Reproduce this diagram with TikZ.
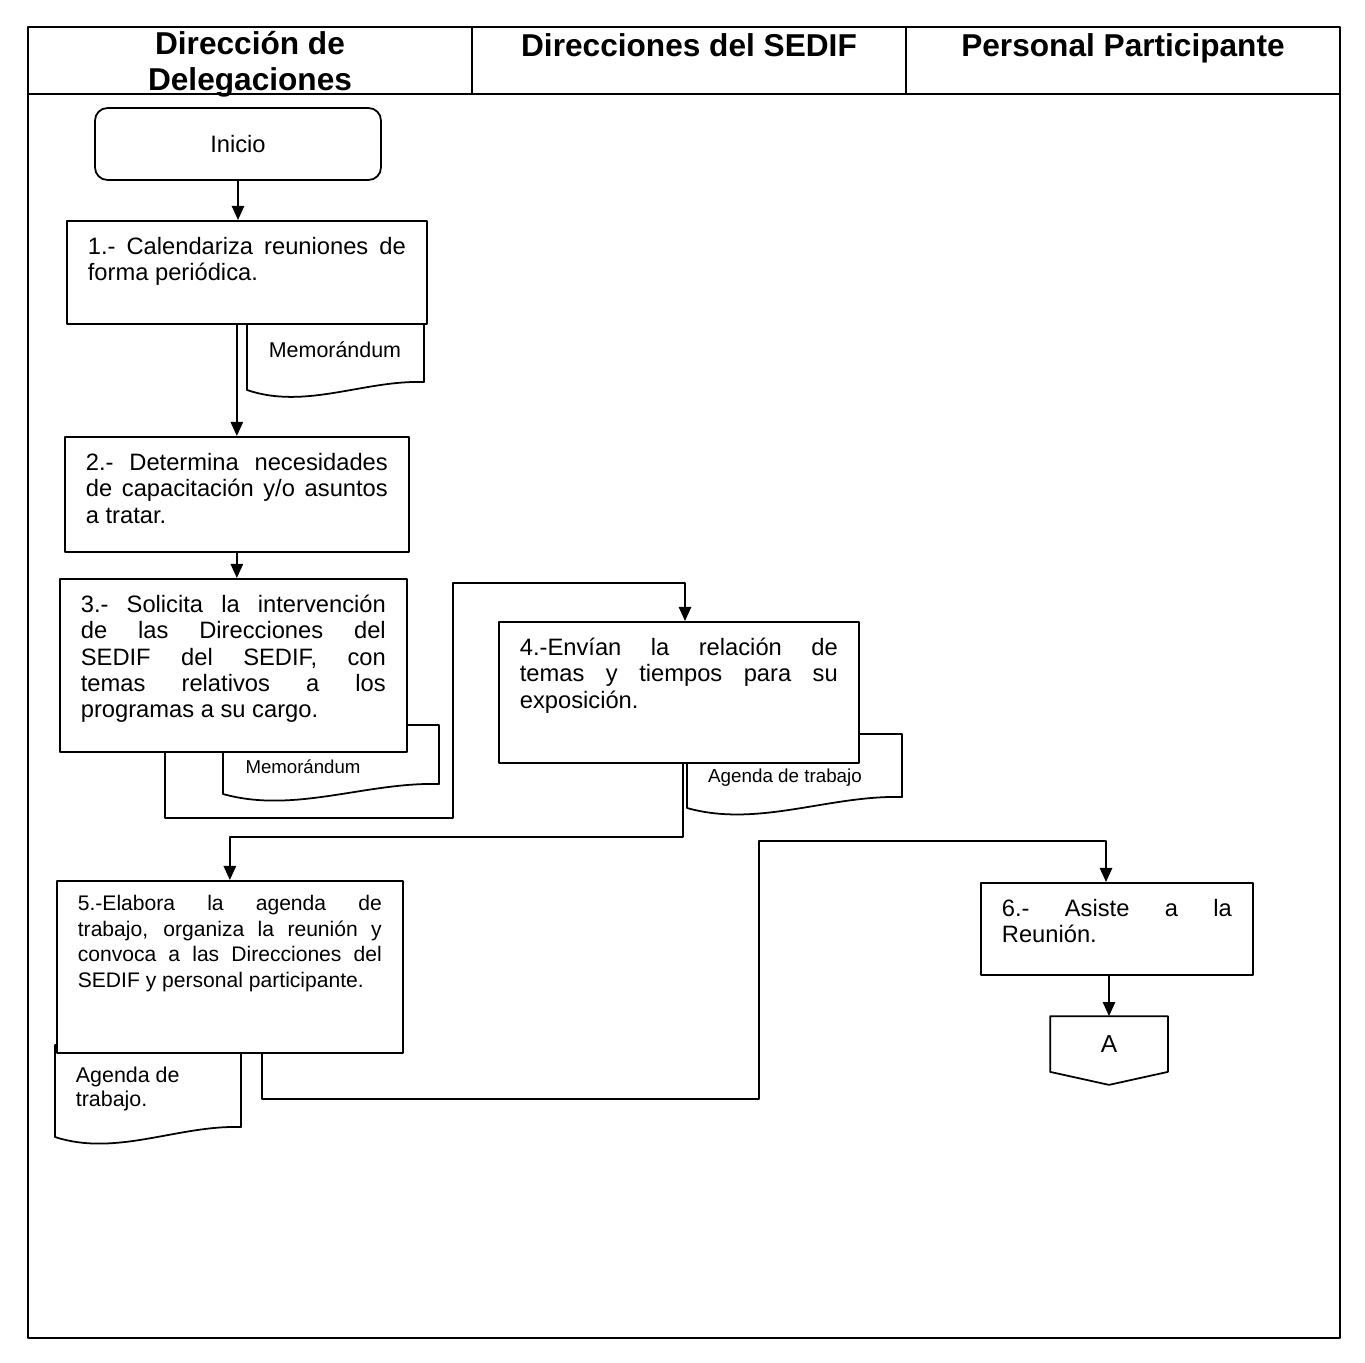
\documentclass[tikz,border=0pt]{standalone}
\usepackage{fontspec}
\setmainfont{Liberation Sans}
\usetikzlibrary{arrows.meta,calc}
\tolerance=10000
\hyphenpenalty=10000

% hoja: left, top, right, bottom left, bottom right
\newcommand{\hoja}[5]{%
  \draw[fill=white] (#1,#2) -- (#1,#4) .. controls ({#1+0.33*(#3-#1)},{#4+20}) and ({#1+0.66*(#3-#1)},{#5-2}) .. (#3,#5) -- (#3,#2) -- cycle;}

\begin{document}
\begin{tikzpicture}[x=0.02cm,y=-0.02cm, line width=1pt, line join=round, >={Triangle[length=8pt,width=7pt]},
  titulo/.style={font=\fontsize{18}{20.5}\selectfont\bfseries, align=center},
  paso/.style={draw, fill=white, anchor=north west, align=justify, inner xsep=0.42cm, inner ysep=0.32cm,
    text height=10pt, text depth=#1, font=\fontsize{13.5}{15}\selectfont},
  nota/.style={font=\fontsize{#1}{13.5}\selectfont, inner sep=0pt}]
\useasboundingbox (0,0) rectangle (1365,1362);
\draw (28,27) rectangle (1340,1338);
\draw (28,94) -- (1340,94);
\draw (472,27) -- (472,94);
\draw (906,27) -- (906,94);
\node[titulo] (t1) at (250,64) {Dirección de\\Delegaciones};
\node[titulo] (t2) at (689,45) {Direcciones del SEDIF};
\node[titulo] (t3) at (1123,48) {Personal Participante};

\hoja{247}{315}{424}{390}{382}
\hoja{223}{725}{439}{794}{784}
\hoja{687}{734}{902}{808}{797}
\hoja{55}{1045}{241}{1137}{1127}
\node[nota=12.2] (memo1) at (335,350) {Memorándum};
\node[nota=10.6] (memo2) at (303,767) {Memorándum};
\node[nota=10.7] (agenda1) at (785,778) {Agenda de trabajo};
\node[nota=12.2, anchor=west, align=left] (agenda2) at (75,1089) {Agenda de\\trabajo.};

\node[draw, rounded corners=0.25cm, minimum width=5.72cm, minimum height=1.44cm, font=\fontsize{13.5}{15}\selectfont] (inicio) at (238,144) {Inicio};
\node[paso=1.07cm, text width=6.36cm] (p1) at (66,220) {1.- Calendariza reuniones de\linebreak forma periódica.};
\node[paso=1.31cm, text width=6.04cm] (p2) at (64,436) {2.- Determina necesidades\linebreak de capacitación y/o asuntos\linebreak a tratar.};
\node[paso=2.47cm, text width=6.10cm] (p3) at (59,578) {3.- Solicita la intervención\linebreak de las Direcciones del\linebreak SEDIF del SEDIF, con\linebreak temas relativos a los\linebreak programas a su cargo.};
\node[paso=1.83cm, text width=6.36cm] (p4) at (498,621) {4.-Envían la relación de\linebreak temas y tiempos para su\linebreak exposición.};
\node[paso=2.52cm, text width=6.08cm, text height=8pt, font=\fontsize{12}{14.5}\selectfont] (p5) at (56,880) {5.-Elabora la agenda de\linebreak trabajo, organiza la reunión y\linebreak convoca a las Direcciones del\linebreak SEDIF y personal participante.};
\node[paso=0.85cm, text width=4.60cm] (p6) at (980,882) {6.- Asiste a la\linebreak Reunión.};
\node[minimum width=2.32cm, minimum height=1.08cm, font=\fontsize{14}{16}\selectfont] (A) at (1109,1044) {A};
\draw (A.north west) -- (A.north east) -- (A.south east) -- ($(A.south)+(0,13)$) -- (A.south west) -- cycle;

\coordinate (a1) at (165,818);
\coordinate (a2) at (453,583);
\coordinate (a3) at (685,583);
\coordinate (b1) at (683,837);
\coordinate (s1) at (262,1099);
\coordinate (s2) at (759,841);
\coordinate (s3) at (1106,841);
\draw[->] (inicio.south) -- (inicio.south |- p1.north);
\draw[->] (p2.north |- p1.south) -- (p2.north);
\draw[->] (p2.south) -- (p2.south |- p3.north);
\draw[->] (a1 |- p3.south) -- (a1) -| (a2) -- (a3) -- (a3 |- p4.north);
\draw[->] (b1 |- p4.south) -- (b1) -| (p5.north);
\draw[->] (s1 |- p5.south) -- (s1) -| (s2) -- (s3) -- (s3 |- p6.north);
\draw[->] (A.north |- p6.south) -- (A.north);
\end{tikzpicture}
\end{document}
